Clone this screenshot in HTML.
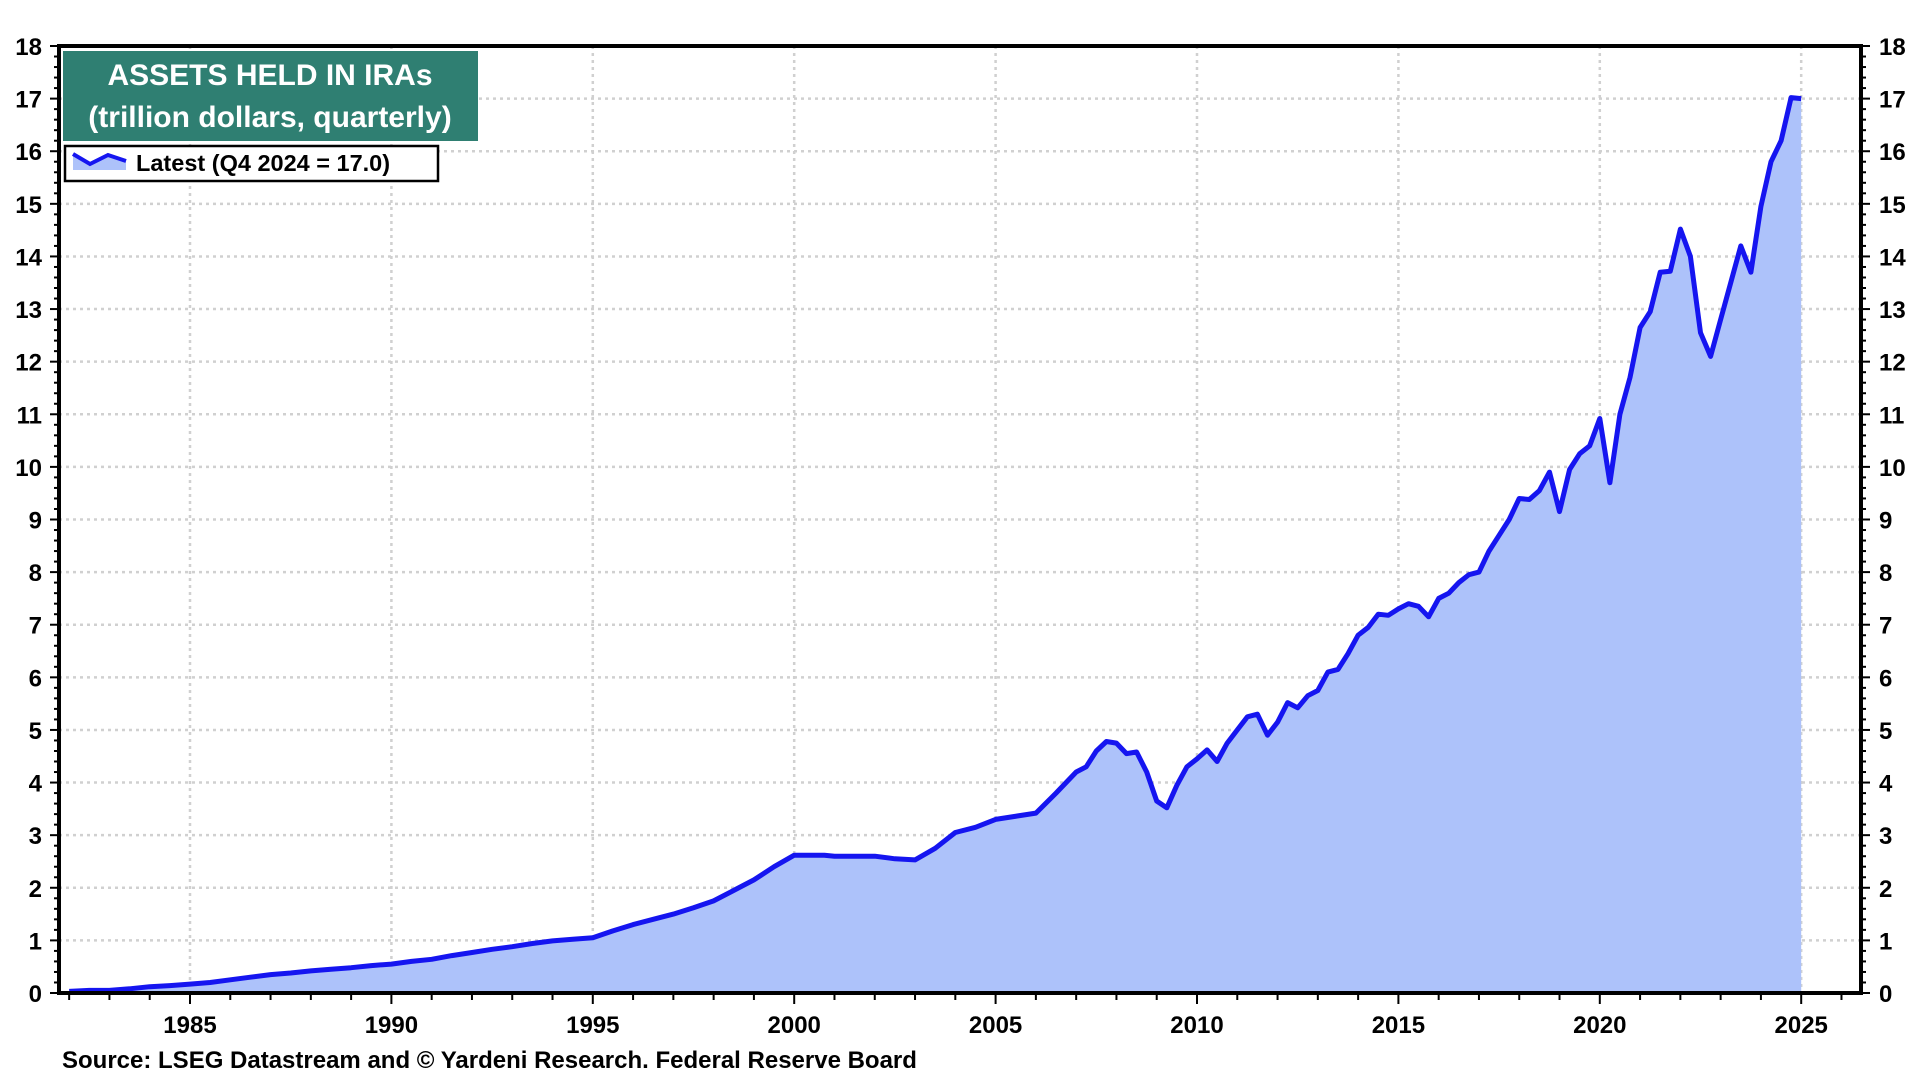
<!DOCTYPE html>
<html><head><meta charset="utf-8"><style>
body{margin:0;background:#fff;}
svg text{font-family:"Liberation Sans",Arial,sans-serif;font-weight:bold;}
</style></head><body>
<svg id="c" width="1920" height="1080" xmlns="http://www.w3.org/2000/svg"></svg>
<script>
const L=59,R=1861,T=46,B=993;
const X=y=>190+(y-1985)*40.28, Y=v=>B-v*(B-T)/18;
const d=[[1982,0.03],[1982.5,0.05],[1983,0.05],[1983.5,0.08],[1984,0.12],[1984.5,0.14],[1985,0.17],[1985.5,0.2],[1986,0.25],[1986.5,0.3],[1987,0.35],[1987.5,0.38],[1988,0.42],[1988.5,0.45],[1989,0.48],[1989.5,0.52],[1990,0.55],[1990.5,0.6],[1991,0.64],[1991.5,0.71],[1992,0.77],[1992.5,0.83],[1993,0.88],[1993.5,0.94],[1994,0.99],[1994.5,1.02],[1995,1.05],[1995.5,1.18],[1996,1.3],[1996.5,1.4],[1997,1.5],[1997.5,1.62],[1998,1.75],[1998.5,1.95],[1999,2.15],[1999.5,2.4],[2000,2.62],[2000.75,2.62],[2001,2.6],[2002,2.6],[2002.5,2.55],[2003,2.53],[2003.5,2.75],[2004,3.05],[2004.5,3.15],[2005,3.3],[2006,3.42],[2006.5,3.8],[2007,4.2],[2007.25,4.3],[2007.5,4.6],[2007.75,4.78],[2008,4.75],[2008.25,4.55],[2008.5,4.58],[2008.75,4.2],[2009,3.65],[2009.25,3.52],[2009.5,3.95],[2009.75,4.3],[2010,4.45],[2010.25,4.62],[2010.5,4.4],[2010.75,4.75],[2011,5.0],[2011.25,5.25],[2011.5,5.3],[2011.75,4.9],[2012,5.15],[2012.25,5.52],[2012.5,5.42],[2012.75,5.65],[2013,5.75],[2013.25,6.1],[2013.5,6.15],[2013.75,6.45],[2014,6.8],[2014.25,6.95],[2014.5,7.2],[2014.75,7.18],[2015,7.3],[2015.25,7.4],[2015.5,7.35],[2015.75,7.15],[2016,7.5],[2016.25,7.6],[2016.5,7.8],[2016.75,7.95],[2017,8.0],[2017.25,8.4],[2017.5,8.7],[2017.75,9.0],[2018,9.4],[2018.25,9.38],[2018.5,9.55],[2018.75,9.9],[2019,9.15],[2019.25,9.95],[2019.5,10.25],[2019.75,10.4],[2020,10.92],[2020.25,9.7],[2020.5,11.0],[2020.75,11.7],[2021,12.65],[2021.25,12.95],[2021.5,13.7],[2021.75,13.72],[2022,14.52],[2022.25,14.0],[2022.5,12.55],[2022.75,12.1],[2023,12.8],[2023.25,13.5],[2023.5,14.2],[2023.75,13.7],[2024,14.95],[2024.25,15.8],[2024.5,16.2],[2024.75,17.02],[2025,17.0]];
let s='';
for(let v=1;v<18;v++)s+=`<line x1="${L}" x2="${R}" y1="${Y(v)}" y2="${Y(v)}" stroke="#d0d0d0" stroke-width="2.5" stroke-dasharray="3,4"/>`;
for(let y=1985;y<=2025;y+=5)s+=`<line x1="${X(y)}" x2="${X(y)}" y1="${T}" y2="${B}" stroke="#d0d0d0" stroke-width="2.5" stroke-dasharray="3,4"/>`;
const pts=d.map(p=>X(p[0]).toFixed(1)+','+Y(p[1]).toFixed(1)).join(' L');
s+=`<path d="M${X(1982)},${B} L${pts} L${X(2025)},${B}Z" fill="#adc2fa"/>`;
s+=`<path d="M${pts}" fill="none" stroke="#1515f0" stroke-width="5" stroke-linejoin="round"/>`;
s+=`<rect x="${L}" y="${T}" width="${R-L}" height="${B-T}" fill="none" stroke="#000" stroke-width="4"/>`;
for(let i=0;i<=90;i++){const v=i/5,y=Y(v),len=i%5?5:9;
s+=`<line x1="${L-len}" x2="${L}" y1="${y}" y2="${y}" stroke="#000" stroke-width="2"/><line x1="${R}" x2="${R+len}" y1="${y}" y2="${y}" stroke="#000" stroke-width="2"/>`;
if(i%5==0){s+=`<text x="${L-17}" y="${y+9}" font-size="24" text-anchor="end">${v}</text><text x="${R+18}" y="${y+9}" font-size="24">${v}</text>`;}}
for(let yr=1982;yr<=2027;yr++){const x=X(yr);s+=`<line x1="${x}" x2="${x}" y1="${B}" y2="${B+(yr%5?7:11)}" stroke="#000" stroke-width="2"/>`;
if(yr%5==0)s+=`<text x="${x}" y="${B+40}" font-size="24" text-anchor="middle">${yr}</text>`;}
s+=`<rect x="63" y="51" width="415" height="90" fill="#2f7f72"/>`;
s+=`<text x="270" y="85" font-size="30" fill="#fff" text-anchor="middle">ASSETS HELD IN IRAs</text>`;
s+=`<text x="270" y="127" font-size="30" fill="#fff" text-anchor="middle">(trillion dollars, quarterly)</text>`;
s+=`<rect x="65" y="146" width="373" height="35" fill="#fff" stroke="#000" stroke-width="2.5"/>`;
s+=`<path d="M73,154 L90,164 L108,155 L126,161 L126,170 L73,170Z" fill="#adc2fa"/><path d="M73,154 L90,164 L108,155 L126,161" fill="none" stroke="#1515f0" stroke-width="4"/>`;
s+=`<text x="136" y="171" font-size="23.5">Latest (Q4 2024 = 17.0)</text>`;
s+=`<text x="62" y="1068" font-size="24">Source: LSEG Datastream and © Yardeni Research. Federal Reserve Board</text>`;
document.getElementById('c').innerHTML=s;
</script>
</body></html>
